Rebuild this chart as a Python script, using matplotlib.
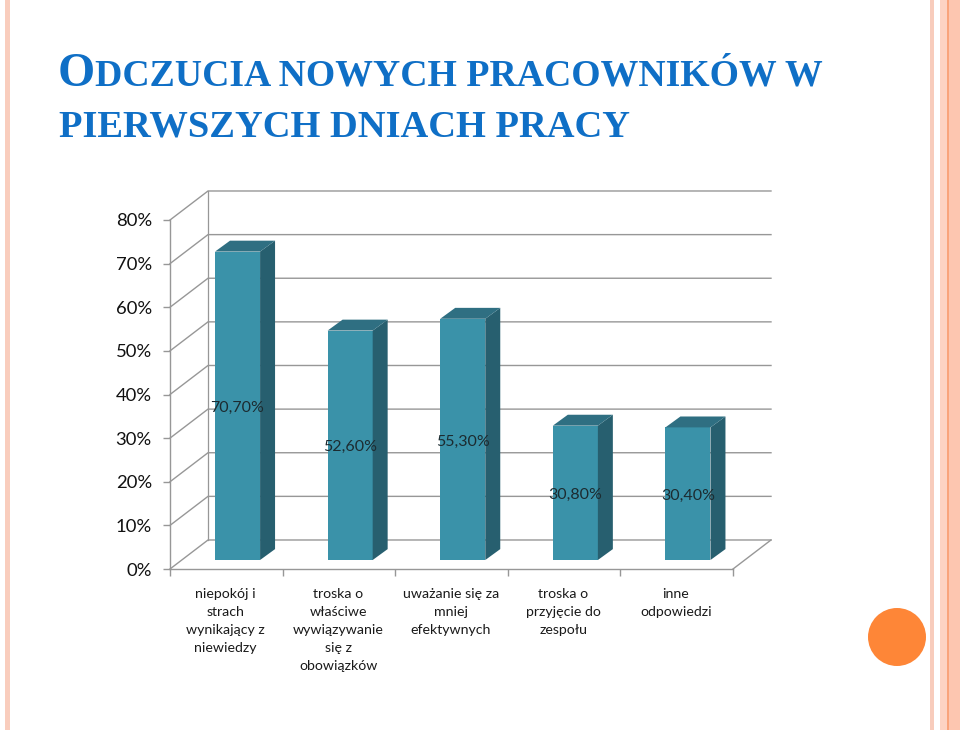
import matplotlib
matplotlib.use('Agg')
import matplotlib.pyplot as plt
from matplotlib.patches import Polygon, Circle, Rectangle

# data
categories = ['niepokój i\nstrach\nwynikający z\nniewiedzy',
              'troska o\nwłaściwe\nwywiązywanie\nsię z\nobowiązków',
              'uważanie się za\nmniej\nefektywnych',
              'troska o\nprzyjęcie do\nzespołu',
              'inne\nodpowiedzi']
values = [70.7, 52.6, 55.3, 30.8, 30.4]
value_labels = ['70,70%', '52,60%', '55,30%', '30,80%', '30,40%']
y_ticks = [0, 10, 20, 30, 40, 50, 60, 70, 80]
title_lines = ['ODCZUCIA NOWYCH PRACOWNIKÓW W', 'PIERWSZYCH DNIACH PRACY']

W, H = 960, 730
FONT = 'Lato'
GREY = '#979797'
FRONT, SIDE, TOP = '#3a92a9', '#275f6f', '#2f6f82'

fig = plt.figure(figsize=(W / 100, H / 100), dpi=100)

# page decoration in pixel coords
bg = fig.add_axes([0, 0, 1, 1])
bg.set_xlim(0, W)
bg.set_ylim(H, 0)
bg.axis('off')
for x0, x1, col in [(5, 10, '#f9cdbd'), (930, 934, '#f8ccbc'), (940, 947, '#fdd3c3'),
                    (947, 949, '#f9a47c'), (949, 960, '#fdc6b0')]:
    bg.add_patch(Rectangle((x0, 0), x1 - x0, H, fc=col, ec='none'))
bg.add_patch(Circle((897, 637), 29, fc='#fe8637', ec='none'))

# title, first letter bigger like small caps
TITLE = '#0f6fc6'
TITLE_FONT = 'Liberation Serif'
big = bg.text(58, 86, title_lines[0][0], family=TITLE_FONT, weight='bold', fontsize=34.5,
              color=TITLE, va='baseline', ha='left')
fig.canvas.draw()
bx = big.get_window_extent().x1
bg.text(bx, 85.5, title_lines[0][1:], family=TITLE_FONT, weight='bold', fontsize=27.2,
        color=TITLE, va='baseline', ha='left')
bg.text(59, 136.5, title_lines[1], family=TITLE_FONT, weight='bold', fontsize=27.7,
        color=TITLE, va='baseline', ha='left')

# the chart
ax = fig.add_axes([170 / W, (H - 569) / H, 563 / W, 349 / H])
ax.set_xlim(0, len(values))
ax.set_ylim(0, 80)
ax.patch.set_alpha(0)
for s in ['top', 'right']:
    ax.spines[s].set_visible(False)
for s in ['left', 'bottom']:
    ax.spines[s].set_color(GREY)
    ax.spines[s].set_linewidth(1.0)

# fake 3d offsets
dx, dy = 0.3375, 6.65
bar_w, bar_off, bar_base = 0.4, 0.1, 2.06
bar_dx, bar_dy = 0.133, 2.5
n = len(values)

for t in y_ticks:
    ax.plot([0, dx, n + dx], [t, t + dy, t + dy], color=GREY, lw=1.0, clip_on=False, zorder=1,
            solid_joinstyle='miter')
ax.plot([dx, dx], [dy, 80 + dy], color=GREY, lw=0.9, clip_on=False, zorder=1)
ax.plot([n, n + dx], [0, dy], color=GREY, lw=1.0, clip_on=False, zorder=1)

xs = [i + 0.5 + bar_off for i in range(n)]
ax.bar(xs, values, width=bar_w, bottom=bar_base, color=FRONT, linewidth=0, zorder=3, clip_on=False)
for x, v in zip(xs, values):
    l, r = x - bar_w / 2, x + bar_w / 2
    b, t = bar_base, bar_base + v
    ax.add_patch(Polygon([(r, b), (r + bar_dx, b + bar_dy), (r + bar_dx, t + bar_dy), (r, t)],
                         fc=SIDE, ec='none', zorder=3, clip_on=False))
    ax.add_patch(Polygon([(l, t), (l + bar_dx, t + bar_dy), (r + bar_dx, t + bar_dy), (r, t)],
                         fc=TOP, ec='none', zorder=3, clip_on=False))

for x, v, lab in zip(xs, values, value_labels):
    ax.annotate(lab, (x, bar_base + v / 2), xytext=(0, -1.5), textcoords='offset points',
                ha='center', va='center', family=FONT, fontsize=11.5,
                color='#1c2b30', zorder=5)

ax.set_yticks(y_ticks)
ax.set_yticklabels(['%d%%' % t for t in y_ticks], family=FONT, fontsize=13.3, color='#111111')
ax.set_xticks(range(n + 1))
ax.set_xticklabels([])
ax.tick_params(axis='y', length=5, width=1.0, color=GREY, pad=8)
ax.tick_params(axis='x', length=5, width=1.0, color=GREY)

for i, c in enumerate(categories):
    ax.annotate(c, (i + 0.5, 0), xytext=(-0.5, -14), textcoords='offset points', ha='center', va='top',
                family=FONT, fontsize=10.2, color='#1a1a1a', linespacing=1.6,
                annotation_clip=False)

fig.savefig('out.png', dpi=100)
